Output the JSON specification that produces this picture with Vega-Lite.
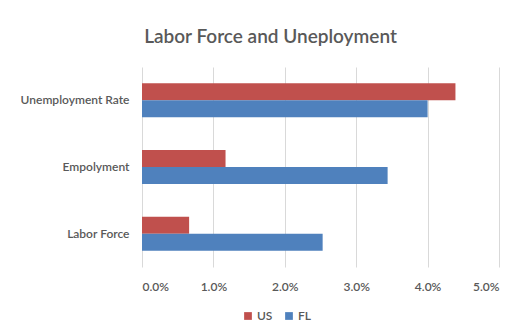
{
  "$schema": "https://vega.github.io/schema/vega-lite/v6.json",
  "width": 357,
  "height": 200,
  "autosize": {"type": "none"},
  "padding": {"left": 142, "top": 67, "right": 30, "bottom": 69},
  "background": "white",
  "title": {
    "text": "Labor Force and Uneployment",
    "anchor": "middle",
    "frame": "group",
    "dx": -50,
    "offset": 20,
    "font": "Lato",
    "fontSize": 19,
    "fontWeight": 600,
    "color": "#595959"
  },
  "data": {
    "values": [
      {"category": "Unemployment Rate", "series": "US", "value": 0.0439},
      {"category": "Unemployment Rate", "series": "FL", "value": 0.0400},
      {"category": "Empolyment", "series": "US", "value": 0.0117},
      {"category": "Empolyment", "series": "FL", "value": 0.0344},
      {"category": "Labor Force", "series": "US", "value": 0.0066},
      {"category": "Labor Force", "series": "FL", "value": 0.0253}
    ]
  },
  "mark": {"type": "bar"},
  "encoding": {
    "y": {
      "field": "category",
      "type": "nominal",
      "sort": ["Unemployment Rate", "Empolyment", "Labor Force"],
      "scale": {"paddingInner": 0.49, "paddingOuter": 0.245},
      "axis": {
        "title": null,
        "domain": false,
        "ticks": false,
        "labelPadding": 13,
        "labelFont": "Lato",
        "labelFontSize": 12,
        "labelFontWeight": 600,
        "labelColor": "#595959"
      }
    },
    "yOffset": {
      "field": "series",
      "type": "nominal",
      "sort": ["US", "FL"]
    },
    "x": {
      "field": "value",
      "type": "quantitative",
      "scale": {"domain": [0, 0.05], "nice": false},
      "axis": {
        "title": null,
        "format": ".1%",
        "values": [0, 0.01, 0.02, 0.03, 0.04, 0.05],
        "domain": false,
        "ticks": false,
        "grid": true,
        "gridColor": "#d9d9d9",
        "labelPadding": 14,
        "labelFont": "Lato",
        "labelFontSize": 12,
        "labelFontWeight": 600,
        "labelColor": "#595959"
      }
    },
    "color": {
      "field": "series",
      "type": "nominal",
      "sort": ["US", "FL"],
      "scale": {"domain": ["US", "FL"], "range": ["#c0504d", "#4f81bd"]},
      "legend": {
        "title": null,
        "orient": "none",
        "direction": "horizontal",
        "legendX": 100,
        "legendY": 243,
        "symbolType": "square",
        "symbolSize": 60,
        "symbolStrokeWidth": 0,
        "labelFont": "Lato",
        "labelFontSize": 12,
        "labelFontWeight": 600,
        "labelColor": "#595959",
        "columnPadding": 10,
        "labelOffset": 3
      }
    }
  },
  "config": {
    "view": {"stroke": null}
  }
}
